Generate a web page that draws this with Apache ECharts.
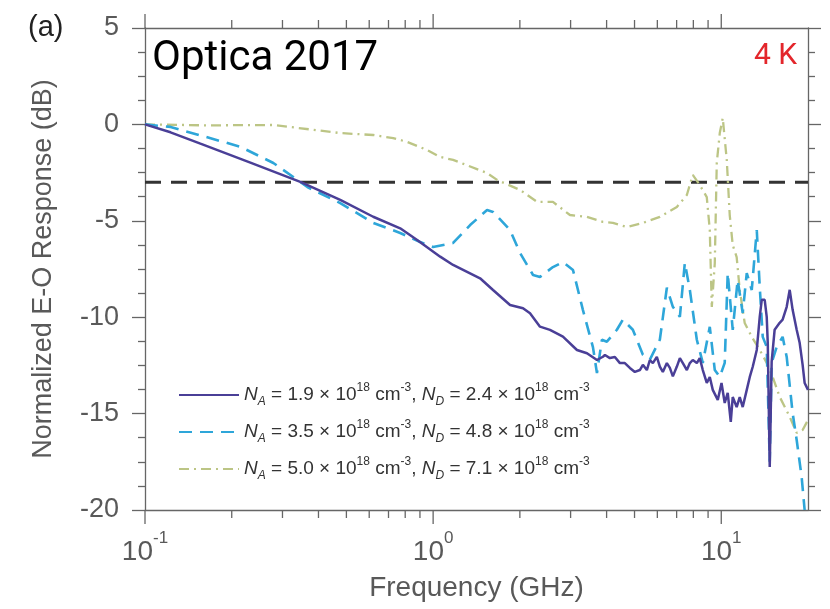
<!DOCTYPE html>
<html>
<head>
<meta charset="utf-8">
<script src="https://cdn.jsdelivr.net/npm/echarts@6/dist/echarts.min.js"></script>
<style>
  html, body { margin: 0; padding: 0; background: #fff; }
  #chart { width: 830px; height: 609px; }
</style>
</head>
<body>
<div id="chart"></div>
<script>
// Normalized electro-optic response vs. modulation frequency, three doping levels.

// Lowest doping: N_A = 1.9e18, N_D = 2.4e18
const solidFreq = [0.1, 0.1226, 0.1557, 0.2321, 0.3459, 0.476, 0.6194, 0.7685, 0.88, 1.058,
  1.173, 1.455, 1.614, 1.849, 2.051, 2.169, 2.349, 2.544, 2.822, 3.156,
  3.419, 3.703, 3.884, 3.947, 4.106, 4.273, 4.449, 4.628, 4.817, 5.013,
  5.218, 5.345, 5.518, 5.652, 5.789, 5.976, 6.121, 6.27, 6.474, 6.631,
  6.792, 7.013, 7.183, 7.357, 7.596, 7.78, 7.964, 8.226, 8.423, 8.628,
  8.907, 9.123, 9.344, 9.725, 10.02, 10.28, 10.53, 10.79, 10.96, 11.31,
  11.59, 11.87, 12.26, 12.56, 12.86, 13.28, 13.60, 13.82, 14.15, 14.38,
  14.50, 14.73, 14.96, 15.32, 15.95, 16.33, 16.87, 17.28, 17.69, 18.27,
  18.71, 19.16, 19.47, 20.0];
const solidDb = [0, -0.41, -1.0, -1.98, -2.98, -3.92, -4.79, -5.39, -6.0, -6.86,
  -7.29, -7.98, -8.59, -9.37, -9.54, -9.80, -10.49, -10.66, -11.01, -11.70,
  -11.87, -12.22, -12.05, -11.96, -12.12, -12.06, -12.38, -12.38, -12.63, -12.84,
  -12.74, -12.47, -12.74, -12.22, -12.38, -12.06, -12.56, -12.84, -12.38, -12.63,
  -13.07, -12.56, -12.12, -12.38, -12.74, -12.38, -12.22, -12.38, -12.12, -12.74,
  -13.41, -13.1, -13.77, -14.29, -13.41, -14.45, -13.93, -15.43, -14.14, -14.66,
  -14.14, -14.66, -13.77, -13.1, -12.57, -11.7, -9.98, -9.1, -9.1, -9.98,
  -11.33, -17.77, -12.3, -10.65, -10.29, -10.13, -9.46, -8.58, -9.62, -10.65,
  -11.33, -12.47, -13.41, -13.77];

// Middle doping: N_A = 3.5e18, N_D = 4.8e18
const dashFreq = [0.1, 0.1226, 0.2143, 0.2789, 0.3271, 0.3659, 0.476, 0.6194, 0.7685, 0.9016,
  1.0, 1.173, 1.344, 1.539, 1.614, 1.849, 2.003, 2.222, 2.349, 2.605,
  2.822, 3.058, 3.311, 3.586, 3.703, 3.853, 4.009, 4.343, 4.556, 4.933,
  5.345, 5.652, 6.121, 6.474, 6.792, 7.183, 7.475, 7.78, 8.226, 8.628,
  9.123, 9.495, 9.881, 10.28, 10.53, 10.96, 11.40, 11.87, 12.26, 12.76,
  13.28, 13.60, 13.93, 14.38, 14.73, 14.96, 15.57, 16.33, 16.87, 17.69,
  18.27, 19.01, 19.47];
const dashDb = [0, -0.13, -1.16, -2.0, -2.73, -3.25, -4.08, -5.11, -5.63, -6.1,
  -6.36, -6.15, -5.22, -4.44, -4.54, -5.48, -6.67, -7.81, -7.91, -7.40,
  -7.14, -7.55, -9.63, -11.55, -12.9, -11.17, -11.27, -10.65, -10.13, -10.65,
  -11.95, -12.2, -11.17, -8.47, -9.46, -9.98, -7.18, -8.59, -11.17, -12.37,
  -10.5, -12.74, -13.1, -12.37, -7.71, -10.66, -8.07, -9.78, -7.71, -8.59,
  -5.48, -8.43, -11.02, -11.54, -17.5, -12.37, -11.54, -11.02, -12.06, -14.97,
  -16.37, -18.29, -20.0];

// Highest doping: N_A = 5.0e18, N_D = 7.1e18
const dotFreq = [0.1, 0.1646, 0.2789, 0.476, 0.6194, 0.7268, 0.8127, 0.9533, 1.058, 1.173,
  1.539, 1.667, 2.003, 2.294, 2.605, 2.985, 3.419, 3.884, 4.206, 4.703,
  5.345, 6.121, 7.013, 7.596, 7.964, 8.423, 8.907, 9.123, 9.271, 9.495,
  9.647, 9.881, 10.12, 10.45, 10.7, 10.96, 11.31, 11.59, 12.06, 12.76,
  13.60, 14.38, 15.08, 15.95, 17.28, 18.27, 19.16, 20.0];
const dotDb = [0, -0.05, -0.03, -0.45, -0.55, -0.71, -0.91, -1.33, -1.69, -1.84,
  -2.52, -2.88, -3.4, -4.02, -4.02, -4.7, -4.8, -5.06, -5.11, -5.32,
  -5.11, -4.8, -4.28, -3.66, -2.62, -3.14, -3.77, -5.48, -9.47, -7.2,
  -2.0, -0.45, 0.33, -1.85, -4.7, -6.26, -6.88, -8.59, -10.3, -11.02,
  -11.7, -12.37, -13.1, -14.13, -15.17, -16.0, -15.85, -15.33];

// -3 dB reference level
const refFreq = [0.1, 20];
const refDb = [-3, -3];

// Axis ranges and ticks
const freqMin = 0.1, freqMax = 20;
const dbMin = -20, dbMax = 5, dbStep = 5;
const freqMajorTicks = [0.1, 1, 10];
const freqMinorTicks = [0.2, 0.3, 0.4, 0.5, 0.6, 0.7, 0.8, 0.9, 2, 3, 4, 5, 6, 7, 8, 9];

// Legend entries
const seriesNames = ['low', 'mid', 'high'];
const legendNA = ['1.9', '3.5', '5.0'];
const legendND = ['2.4', '4.8', '7.1'];
const legendExp = '18';

const axisColor = '#666';
const labelColor = '#595959';
const sansFont = '"Liberation Sans", Arial, sans-serif';

const zip = (xs, ys) => xs.map((x, i) => [x, ys[i]]);

const chart = echarts.init(document.getElementById('chart'), null, { renderer: 'canvas' });

const legendText = (name) => {
  const i = seriesNames.indexOf(name);
  return '{i|N}{sub|A}{t| = ' + legendNA[i] + ' \u00d7 10}{sup|' + legendExp + '}{t| cm}{sup|-3}' +
         '{t|, }{i|N}{sub|D}{t| = ' + legendND[i] + ' \u00d7 10}{sup|' + legendExp + '}{t| cm}{sup|-3}';
};

const freqLabel = (v) => {
  const e = Math.log10(v);
  const r = Math.round(e);
  if (Math.abs(e - r) > 1e-6) return '';
  return '{b|10}{s|' + r + '}';
};

// Decade and sub-decade ticks on the bottom and top frequency axes
const tickSeries = {
  type: 'custom',
  xAxisIndex: 0,
  yAxisIndex: 0,
  silent: true,
  clip: false,
  z: 10,
  data: freqMajorTicks.concat(freqMinorTicks).map(f => [f, dbMin]),
  renderItem: (params, api) => {
    const f = api.value(0);
    const len = freqMajorTicks.indexOf(f) >= 0 ? 14 : 8;
    const b = api.coord([f, dbMin]);
    const t = api.coord([f, dbMax]);
    const st = { stroke: axisColor, lineWidth: 1.3 };
    return {
      type: 'group',
      children: [
        { type: 'line', shape: { x1: b[0], y1: b[1], x2: b[0], y2: b[1] + len }, style: st },
        { type: 'line', shape: { x1: t[0], y1: t[1], x2: t[0], y2: t[1] - len }, style: st }
      ]
    };
  }
};

const option = {
  animation: false,
  backgroundColor: '#fff',
  title: [
    { text: 'Optica 2017', left: 147, top: 33,
      textStyle: { fontFamily: 'Roboto', fontSize: 42, fontWeight: 'normal', color: '#000' } },
    { text: '4 K', right: 28, top: 36,
      textStyle: { fontFamily: 'Roboto', fontSize: 30, fontWeight: 'normal', color: '#e3262b' } },
    { text: '(a)', left: 23, top: 8,
      textStyle: { fontFamily: sansFont, fontSize: 29, fontWeight: 'normal', color: '#222' } }
  ],
  grid: { left: 145, right: 22, top: 28, bottom: 99, containLabel: false, outerBoundsMode: 'none' },
  legend: {
    data: seriesNames,
    orient: 'vertical',
    left: 178,
    top: 382,
    itemWidth: 60,
    itemHeight: 14,
    itemGap: 11,
    padding: 0,
    itemStyle: { opacity: 0 },
    formatter: legendText,
    textStyle: {
      color: '#333',
      fontFamily: sansFont,
      rich: {
        i: { fontSize: 19, fontStyle: 'italic', lineHeight: 26, verticalAlign: 'middle', fontFamily: sansFont, color: '#333' },
        sub: { fontSize: 12, fontStyle: 'italic', lineHeight: 26, verticalAlign: 'bottom', fontFamily: sansFont, color: '#333' },
        t: { fontSize: 19, lineHeight: 26, verticalAlign: 'middle', fontFamily: sansFont, color: '#333' },
        sup: { fontSize: 12, lineHeight: 26, verticalAlign: 'top', fontFamily: sansFont, color: '#333' }
      }
    }
  },
  xAxis: [
    {
      type: 'log', logBase: 10, min: freqMin, max: freqMax, position: 'bottom',
      name: 'Frequency (GHz)', nameLocation: 'middle', nameGap: 64,
      nameTextStyle: { fontFamily: sansFont, fontSize: 28, color: labelColor },
      axisLine: { show: true, onZero: false, lineStyle: { color: axisColor, width: 1.3 } },
      axisTick: { show: false },
      splitLine: { show: false },
      axisLabel: {
        margin: 20, formatter: freqLabel, showMaxLabel: false,
        rich: {
          b: { fontFamily: sansFont, fontSize: 28, color: labelColor, lineHeight: 36, verticalAlign: 'bottom' },
          s: { fontFamily: sansFont, fontSize: 17, color: labelColor, lineHeight: 36, verticalAlign: 'top' }
        }
      }
    },
    {
      type: 'log', logBase: 10, min: freqMin, max: freqMax, position: 'top',
      axisLine: { show: true, onZero: false, lineStyle: { color: axisColor, width: 1.3 } },
      axisTick: { show: false }, axisLabel: { show: false }, splitLine: { show: false }
    }
  ],
  yAxis: [
    {
      type: 'value', min: dbMin, max: dbMax, interval: dbStep, position: 'left',
      name: 'Normalized E-O Response (dB)', nameLocation: 'middle', nameGap: 88,
      nameTextStyle: { fontFamily: sansFont, fontSize: 27, color: labelColor },
      axisLine: { show: true, onZero: false, lineStyle: { color: axisColor, width: 1.3 } },
      axisTick: { show: true, inside: false, length: 13, lineStyle: { color: axisColor, width: 1.3 } },
      minorTick: { show: true, splitNumber: 4, length: 7, lineStyle: { color: axisColor, width: 1.3 } },
      splitLine: { show: false },
      axisLabel: { margin: 26, fontFamily: sansFont, fontSize: 27, color: labelColor }
    },
    {
      type: 'value', min: dbMin, max: dbMax, interval: dbStep, position: 'right',
      axisLine: { show: true, onZero: false, lineStyle: { color: axisColor, width: 1.3 } },
      axisTick: { show: true, inside: false, length: 13, lineStyle: { color: axisColor, width: 1.3 } },
      minorTick: { show: true, splitNumber: 4, length: 7, lineStyle: { color: axisColor, width: 1.3 } },
      splitLine: { show: false },
      axisLabel: { show: false }
    }
  ],
  series: [
    {
      name: 'ref', type: 'line', data: zip(refFreq, refDb), symbol: 'none', silent: true, z: 1,
      lineStyle: { color: '#333', width: 3, type: [16, 10] }
    },
    {
      name: seriesNames[2], type: 'line', data: zip(dotFreq, dotDb), symbol: 'none', z: 2,
      lineStyle: { color: '#bcc585', width: 2.3, type: [10, 5, 2, 5] }, itemStyle: { color: '#bcc585' }
    },
    {
      name: seriesNames[1], type: 'line', data: zip(dashFreq, dashDb), symbol: 'none', z: 3,
      lineStyle: { color: '#2ea6d9', width: 2.6, type: [13, 8] }, itemStyle: { color: '#2ea6d9' }
    },
    {
      name: seriesNames[0], type: 'line', data: zip(solidFreq, solidDb), symbol: 'none', z: 4,
      lineStyle: { color: '#4a3f97', width: 2.5 }, itemStyle: { color: '#4a3f97' }
    },
    tickSeries
  ]
};

chart.setOption(option);
</script>
</body>
</html>
